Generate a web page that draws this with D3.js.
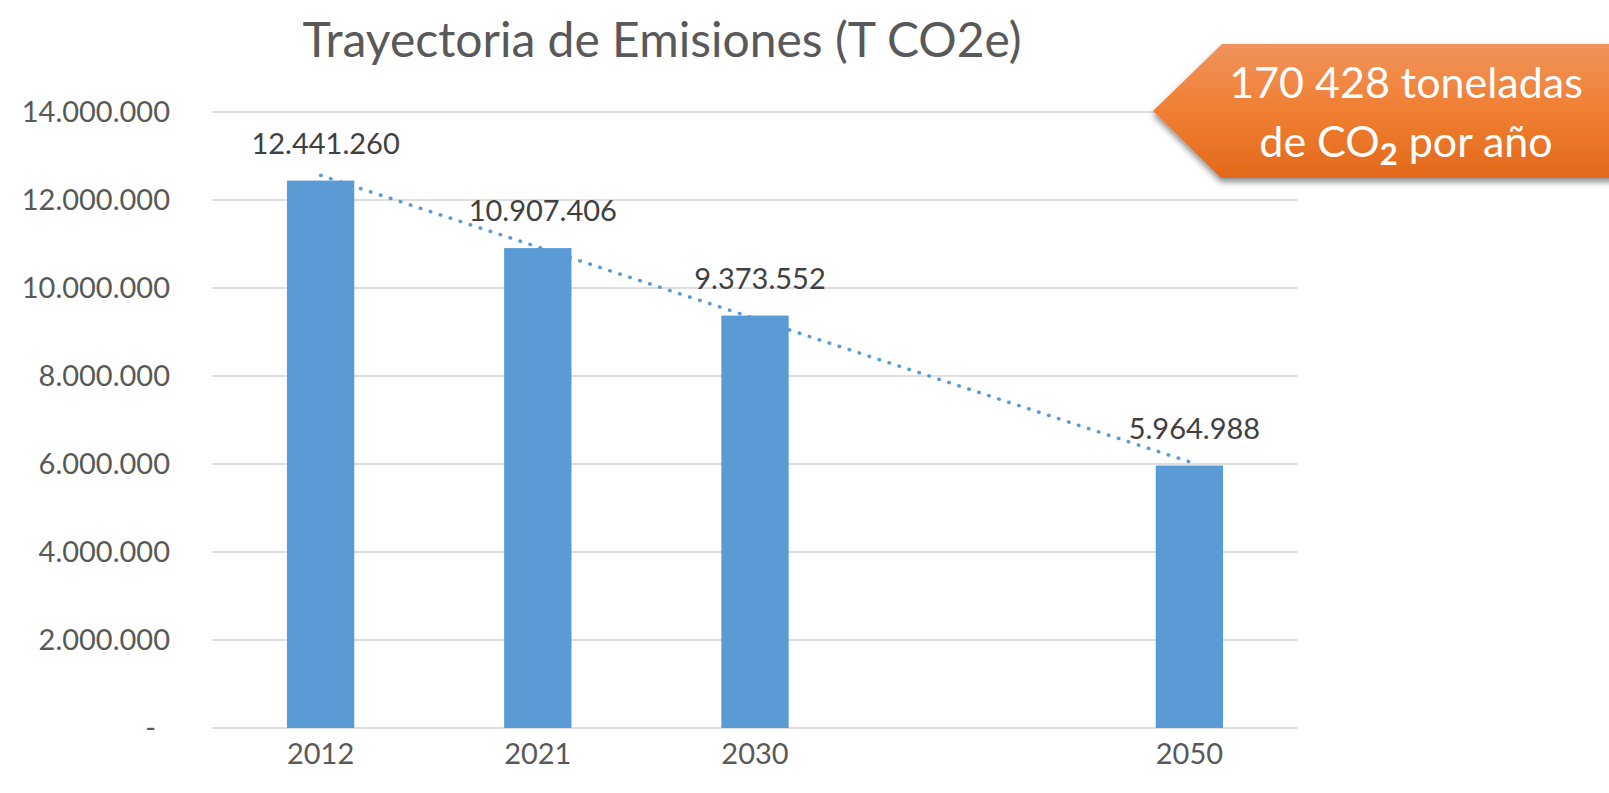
<!DOCTYPE html>
<meta charset='utf-8'>
<head>
  <style>
    body { margin: 0; background: #fff; }
    svg { display: block; font-family: Lato, 'Open Sans', sans-serif; }
    .axis { font-family: Lato, 'Open Sans', sans-serif; }
    .axis text { fill: #595959; font-size: 29px; }
    .axis path, .axis line { display: none; }
    .grid line { stroke: #d4d4d4; stroke-width: 1.5; }
    .label { fill: #404040; font-size: 29px; text-anchor: middle; }
  </style>
</head>
<body>
<script src='https://cdn.jsdelivr.net/npm/d3@7'></script>
<script>

// data
var years = ['2012', '2021', '2030', '', '2050'];   // empty slot between 2030 and 2050
var emissions = [12441260, 10907406, 9373552, null, 5964988];
var yTicks = [0, 2000000, 4000000, 6000000, 8000000, 10000000, 12000000, 14000000];
var trendYears = ['2012', '2050'];
var trendValues = [12560000, 6050000];

var W = 1609, H = 793;
var margin = {top: 112, right: 311, bottom: 65, left: 212},
    width = W - margin.left - margin.right,
    height = H - margin.top - margin.bottom;

var es = d3.formatLocale({decimal: ',', thousands: '.', grouping: [3], currency: ['', '']});
var fmt = es.format(',');

var x = d3.scaleBand().domain(years).range([0, width]).paddingInner(0.69).paddingOuter(0.345),
    y = d3.scaleLinear().domain([0, 14000000]).range([height, 0]);

var svg = d3.select('body').append('svg')
    .attr('width', W)
    .attr('height', H);

var defs = svg.append('defs');
var grad = defs.append('linearGradient').attr('id', 'orange')
    .attr('x1', 0).attr('y1', 0).attr('x2', 0).attr('y2', 1);
grad.append('stop').attr('offset', '0%').attr('stop-color', '#f1935c');
grad.append('stop').attr('offset', '50%').attr('stop-color', '#f07f32');
grad.append('stop').attr('offset', '100%').attr('stop-color', '#e2691b');
var shadow = defs.append('filter').attr('id', 'shadow')
    .attr('x', '-10%').attr('y', '-10%').attr('width', '130%').attr('height', '140%');
shadow.append('feDropShadow').attr('dx', 0).attr('dy', 4).attr('stdDeviation', 3)
    .attr('flood-color', '#000').attr('flood-opacity', 0.45);

// title
svg.append('text')
    .attr('x', 662)
    .attr('y', 57)
    .attr('text-anchor', 'middle')
    .style('font-size', '48px')
    .style('fill', '#595959')
    .text('Trayectoria de Emisiones (T CO2e)');

var g = svg.append('g')
    .attr('transform', 'translate(' + margin.left + ',' + margin.top + ')');

// gridlines
g.append('g').attr('class', 'grid')
  .selectAll('line')
    .data(yTicks)
  .enter().append('line')
    .attr('x1', 0).attr('x2', width)
    .attr('y1', d => y(d)).attr('y2', d => y(d));

// y axis
g.append('g')
    .attr('class', 'y axis')
    .call(d3.axisLeft(y).tickValues(yTicks).tickSize(0).tickPadding(42)
      .tickFormat(d => d === 0 ? '-' : fmt(d)))
    .attr('font-family', null).attr('font-size', null)
  .selectAll('text')
    .attr('dx', d => d === 0 ? -14 : 0);

// x axis
g.append('g')
    .attr('class', 'x axis')
    .attr('transform', 'translate(0,' + height + ')')
    .call(d3.axisBottom(x).tickSize(0).tickPadding(36))
    .attr('font-family', null).attr('font-size', null)
  .selectAll('text')
    .attr('dy', '0');

var data = years.map((yr, i) => ({year: yr, value: emissions[i]})).filter(d => d.value != null);

// bars
g.selectAll('.bar')
    .data(data)
  .enter().append('rect')
    .attr('class', 'bar')
    .style('fill', '#5b9bd5')
    .attr('x', d => x(d.year))
    .attr('y', d => y(d.value))
    .attr('width', x.bandwidth())
    .attr('height', d => height - y(d.value));

// dotted trend line
var trend = trendYears.map((yr, i) => ({year: yr, value: trendValues[i]}));
g.append('path')
    .datum(trend)
    .attr('d', d3.line().x(d => x(d.year) + x.bandwidth() / 2).y(d => y(d.value)))
    .style('fill', 'none')
    .style('stroke', '#5b9bd5')
    .style('stroke-width', 3.5)
    .style('stroke-linecap', 'round')
    .style('stroke-dasharray', '0.5,10');

// value labels
g.selectAll('.label')
    .data(data)
  .enter().append('text')
    .attr('class', 'label')
    .attr('x', d => x(d.year) + x.bandwidth() / 2 + 5)
    .attr('y', d => y(d.value) - 27)
    .text(d => fmt(d.value));

// orange callout
var callout = svg.append('g');
callout.append('path')
    .attr('d', 'M1153,111 L1222,44 L1620,44 L1620,178 L1221,178 Z')
    .style('fill', 'url(#orange)')
    .attr('filter', 'url(#shadow)');
var ct = callout.append('text')
    .attr('text-anchor', 'middle')
    .style('fill', '#fff')
    .style('font-size', '43px');
ct.append('tspan').attr('x', 1406).attr('y', 98).text('170 428 toneladas');
var l2 = ct.append('tspan').attr('x', 1406).attr('y', 157);
l2.append('tspan').text('de CO');
l2.append('tspan').attr('dy', 8).style('font-weight', 'bold').style('font-size', '31px').text('2');
l2.append('tspan').attr('dy', -8).text(' por año');

</script>
</body>
